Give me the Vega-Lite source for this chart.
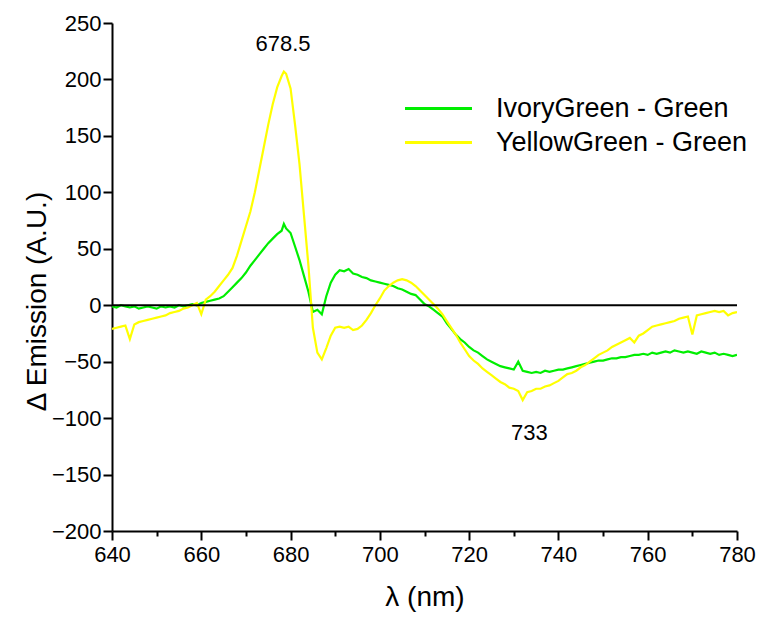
{
  "$schema": "https://vega.github.io/schema/vega-lite/v6.json",
  "width": 625,
  "height": 508,
  "autosize": "none",
  "padding": {"left": 112, "top": 23, "right": 23, "bottom": 86},
  "background": "white",
  "config": {
    "view": {"stroke": null},
    "font": "Liberation Sans",
    "axis": {"grid": false, "domainColor": "black", "domainWidth": 2, "tickColor": "black", "tickWidth": 2, "labelColor": "black", "titleColor": "black", "labelFont": "Liberation Sans", "titleFont": "Liberation Sans", "labelFontSize": 22, "titleFontSize": 28, "titleFontWeight": "normal"}
  },
  "datasets": {
    "spectra": [
      {"wl":640,"IvoryGreen - Green":-1,"YellowGreen - Green":-21},
      {"wl":641,"IvoryGreen - Green":-2,"YellowGreen - Green":-20},
      {"wl":642,"IvoryGreen - Green":0,"YellowGreen - Green":-19},
      {"wl":643,"IvoryGreen - Green":-1,"YellowGreen - Green":-18},
      {"wl":644,"IvoryGreen - Green":-2,"YellowGreen - Green":-30},
      {"wl":645,"IvoryGreen - Green":-1,"YellowGreen - Green":-17},
      {"wl":646,"IvoryGreen - Green":-3,"YellowGreen - Green":-15},
      {"wl":647,"IvoryGreen - Green":-2,"YellowGreen - Green":-14},
      {"wl":648,"IvoryGreen - Green":-1,"YellowGreen - Green":-13},
      {"wl":649,"IvoryGreen - Green":-2,"YellowGreen - Green":-12},
      {"wl":650,"IvoryGreen - Green":-3,"YellowGreen - Green":-11},
      {"wl":651,"IvoryGreen - Green":-1,"YellowGreen - Green":-10},
      {"wl":652,"IvoryGreen - Green":-2,"YellowGreen - Green":-9},
      {"wl":653,"IvoryGreen - Green":-1,"YellowGreen - Green":-7},
      {"wl":654,"IvoryGreen - Green":-2,"YellowGreen - Green":-6},
      {"wl":655,"IvoryGreen - Green":0,"YellowGreen - Green":-5},
      {"wl":656,"IvoryGreen - Green":-1,"YellowGreen - Green":-3},
      {"wl":657,"IvoryGreen - Green":0,"YellowGreen - Green":-2},
      {"wl":658,"IvoryGreen - Green":1,"YellowGreen - Green":0},
      {"wl":659,"IvoryGreen - Green":0,"YellowGreen - Green":2},
      {"wl":660,"IvoryGreen - Green":2,"YellowGreen - Green":-8},
      {"wl":661,"IvoryGreen - Green":3,"YellowGreen - Green":5},
      {"wl":662,"IvoryGreen - Green":4,"YellowGreen - Green":8},
      {"wl":663,"IvoryGreen - Green":5,"YellowGreen - Green":12},
      {"wl":664,"IvoryGreen - Green":6,"YellowGreen - Green":17},
      {"wl":665,"IvoryGreen - Green":8,"YellowGreen - Green":22},
      {"wl":666,"IvoryGreen - Green":12,"YellowGreen - Green":27},
      {"wl":667,"IvoryGreen - Green":16,"YellowGreen - Green":33},
      {"wl":668,"IvoryGreen - Green":20,"YellowGreen - Green":44},
      {"wl":669,"IvoryGreen - Green":24,"YellowGreen - Green":57},
      {"wl":670,"IvoryGreen - Green":29,"YellowGreen - Green":70},
      {"wl":671,"IvoryGreen - Green":35,"YellowGreen - Green":83},
      {"wl":672,"IvoryGreen - Green":40,"YellowGreen - Green":100},
      {"wl":673,"IvoryGreen - Green":45,"YellowGreen - Green":120},
      {"wl":674,"IvoryGreen - Green":50,"YellowGreen - Green":140},
      {"wl":675,"IvoryGreen - Green":55,"YellowGreen - Green":160},
      {"wl":676,"IvoryGreen - Green":59,"YellowGreen - Green":178},
      {"wl":677,"IvoryGreen - Green":63,"YellowGreen - Green":193},
      {"wl":678,"IvoryGreen - Green":66,"YellowGreen - Green":203},
      {"wl":678.5,"IvoryGreen - Green":72,"YellowGreen - Green":207},
      {"wl":679,"IvoryGreen - Green":68,"YellowGreen - Green":205},
      {"wl":680,"IvoryGreen - Green":64,"YellowGreen - Green":192},
      {"wl":681,"IvoryGreen - Green":52,"YellowGreen - Green":160},
      {"wl":682,"IvoryGreen - Green":40,"YellowGreen - Green":125},
      {"wl":683,"IvoryGreen - Green":26,"YellowGreen - Green":80},
      {"wl":684,"IvoryGreen - Green":12,"YellowGreen - Green":35},
      {"wl":685,"IvoryGreen - Green":-6,"YellowGreen - Green":-20},
      {"wl":686,"IvoryGreen - Green":-4,"YellowGreen - Green":-42},
      {"wl":687,"IvoryGreen - Green":-8,"YellowGreen - Green":-48},
      {"wl":688,"IvoryGreen - Green":8,"YellowGreen - Green":-38},
      {"wl":689,"IvoryGreen - Green":20,"YellowGreen - Green":-27},
      {"wl":690,"IvoryGreen - Green":27,"YellowGreen - Green":-20},
      {"wl":691,"IvoryGreen - Green":31,"YellowGreen - Green":-19},
      {"wl":692,"IvoryGreen - Green":30,"YellowGreen - Green":-20},
      {"wl":693,"IvoryGreen - Green":32,"YellowGreen - Green":-19},
      {"wl":694,"IvoryGreen - Green":28,"YellowGreen - Green":-22},
      {"wl":695,"IvoryGreen - Green":27,"YellowGreen - Green":-21},
      {"wl":696,"IvoryGreen - Green":25,"YellowGreen - Green":-18},
      {"wl":697,"IvoryGreen - Green":24,"YellowGreen - Green":-13},
      {"wl":698,"IvoryGreen - Green":22,"YellowGreen - Green":-7},
      {"wl":699,"IvoryGreen - Green":21,"YellowGreen - Green":0},
      {"wl":700,"IvoryGreen - Green":20,"YellowGreen - Green":6},
      {"wl":701,"IvoryGreen - Green":19,"YellowGreen - Green":13},
      {"wl":702,"IvoryGreen - Green":18,"YellowGreen - Green":17},
      {"wl":703,"IvoryGreen - Green":17,"YellowGreen - Green":20},
      {"wl":704,"IvoryGreen - Green":15,"YellowGreen - Green":22},
      {"wl":705,"IvoryGreen - Green":14,"YellowGreen - Green":23},
      {"wl":706,"IvoryGreen - Green":12,"YellowGreen - Green":22},
      {"wl":707,"IvoryGreen - Green":10,"YellowGreen - Green":20},
      {"wl":708,"IvoryGreen - Green":9,"YellowGreen - Green":17},
      {"wl":709,"IvoryGreen - Green":5,"YellowGreen - Green":13},
      {"wl":710,"IvoryGreen - Green":1,"YellowGreen - Green":9},
      {"wl":711,"IvoryGreen - Green":-1,"YellowGreen - Green":5},
      {"wl":712,"IvoryGreen - Green":-4,"YellowGreen - Green":1},
      {"wl":713,"IvoryGreen - Green":-7,"YellowGreen - Green":-3},
      {"wl":714,"IvoryGreen - Green":-10,"YellowGreen - Green":-8},
      {"wl":715,"IvoryGreen - Green":-16,"YellowGreen - Green":-14},
      {"wl":716,"IvoryGreen - Green":-21,"YellowGreen - Green":-20},
      {"wl":717,"IvoryGreen - Green":-26,"YellowGreen - Green":-26},
      {"wl":718,"IvoryGreen - Green":-30,"YellowGreen - Green":-33},
      {"wl":719,"IvoryGreen - Green":-33,"YellowGreen - Green":-39},
      {"wl":720,"IvoryGreen - Green":-37,"YellowGreen - Green":-45},
      {"wl":721,"IvoryGreen - Green":-40,"YellowGreen - Green":-49},
      {"wl":722,"IvoryGreen - Green":-42,"YellowGreen - Green":-52},
      {"wl":723,"IvoryGreen - Green":-45,"YellowGreen - Green":-56},
      {"wl":724,"IvoryGreen - Green":-48,"YellowGreen - Green":-59},
      {"wl":725,"IvoryGreen - Green":-50,"YellowGreen - Green":-62},
      {"wl":726,"IvoryGreen - Green":-52,"YellowGreen - Green":-65},
      {"wl":727,"IvoryGreen - Green":-54,"YellowGreen - Green":-68},
      {"wl":728,"IvoryGreen - Green":-55,"YellowGreen - Green":-70},
      {"wl":729,"IvoryGreen - Green":-56,"YellowGreen - Green":-73},
      {"wl":730,"IvoryGreen - Green":-57,"YellowGreen - Green":-74},
      {"wl":731,"IvoryGreen - Green":-50,"YellowGreen - Green":-76},
      {"wl":732,"IvoryGreen - Green":-58,"YellowGreen - Green":-84},
      {"wl":733,"IvoryGreen - Green":-59,"YellowGreen - Green":-77},
      {"wl":734,"IvoryGreen - Green":-60,"YellowGreen - Green":-76},
      {"wl":735,"IvoryGreen - Green":-59,"YellowGreen - Green":-74},
      {"wl":736,"IvoryGreen - Green":-60,"YellowGreen - Green":-74},
      {"wl":737,"IvoryGreen - Green":-58,"YellowGreen - Green":-72},
      {"wl":738,"IvoryGreen - Green":-59,"YellowGreen - Green":-71},
      {"wl":739,"IvoryGreen - Green":-58,"YellowGreen - Green":-69},
      {"wl":740,"IvoryGreen - Green":-57,"YellowGreen - Green":-67},
      {"wl":741,"IvoryGreen - Green":-57,"YellowGreen - Green":-64},
      {"wl":742,"IvoryGreen - Green":-56,"YellowGreen - Green":-61},
      {"wl":743,"IvoryGreen - Green":-55,"YellowGreen - Green":-60},
      {"wl":744,"IvoryGreen - Green":-54,"YellowGreen - Green":-58},
      {"wl":745,"IvoryGreen - Green":-53,"YellowGreen - Green":-55},
      {"wl":746,"IvoryGreen - Green":-52,"YellowGreen - Green":-53},
      {"wl":747,"IvoryGreen - Green":-51,"YellowGreen - Green":-50},
      {"wl":748,"IvoryGreen - Green":-50,"YellowGreen - Green":-47},
      {"wl":749,"IvoryGreen - Green":-49,"YellowGreen - Green":-44},
      {"wl":750,"IvoryGreen - Green":-49,"YellowGreen - Green":-42},
      {"wl":751,"IvoryGreen - Green":-48,"YellowGreen - Green":-40},
      {"wl":752,"IvoryGreen - Green":-47,"YellowGreen - Green":-37},
      {"wl":753,"IvoryGreen - Green":-47,"YellowGreen - Green":-35},
      {"wl":754,"IvoryGreen - Green":-46,"YellowGreen - Green":-33},
      {"wl":755,"IvoryGreen - Green":-46,"YellowGreen - Green":-31},
      {"wl":756,"IvoryGreen - Green":-45,"YellowGreen - Green":-29},
      {"wl":757,"IvoryGreen - Green":-44,"YellowGreen - Green":-33},
      {"wl":758,"IvoryGreen - Green":-44,"YellowGreen - Green":-27},
      {"wl":759,"IvoryGreen - Green":-43,"YellowGreen - Green":-25},
      {"wl":760,"IvoryGreen - Green":-44,"YellowGreen - Green":-22},
      {"wl":761,"IvoryGreen - Green":-42,"YellowGreen - Green":-19},
      {"wl":762,"IvoryGreen - Green":-43,"YellowGreen - Green":-18},
      {"wl":763,"IvoryGreen - Green":-42,"YellowGreen - Green":-17},
      {"wl":764,"IvoryGreen - Green":-41,"YellowGreen - Green":-16},
      {"wl":765,"IvoryGreen - Green":-42,"YellowGreen - Green":-15},
      {"wl":766,"IvoryGreen - Green":-40,"YellowGreen - Green":-14},
      {"wl":767,"IvoryGreen - Green":-41,"YellowGreen - Green":-12},
      {"wl":768,"IvoryGreen - Green":-42,"YellowGreen - Green":-11},
      {"wl":769,"IvoryGreen - Green":-41,"YellowGreen - Green":-10},
      {"wl":770,"IvoryGreen - Green":-42,"YellowGreen - Green":-26},
      {"wl":771,"IvoryGreen - Green":-43,"YellowGreen - Green":-9},
      {"wl":772,"IvoryGreen - Green":-41,"YellowGreen - Green":-8},
      {"wl":773,"IvoryGreen - Green":-42,"YellowGreen - Green":-7},
      {"wl":774,"IvoryGreen - Green":-43,"YellowGreen - Green":-6},
      {"wl":775,"IvoryGreen - Green":-42,"YellowGreen - Green":-5},
      {"wl":776,"IvoryGreen - Green":-44,"YellowGreen - Green":-6},
      {"wl":777,"IvoryGreen - Green":-43,"YellowGreen - Green":-5},
      {"wl":778,"IvoryGreen - Green":-44,"YellowGreen - Green":-9},
      {"wl":779,"IvoryGreen - Green":-45,"YellowGreen - Green":-7},
      {"wl":780,"IvoryGreen - Green":-44,"YellowGreen - Green":-6}
    ],
    "notes": [
      {"wl": 678.3, "v": 231, "t": "678.5"},
      {"wl": 733.5, "v": -113, "t": "733"}
    ]
  },
  "layer": [
    {
      "data": {"name": "spectra"},
      "transform": [{"fold": ["IvoryGreen - Green", "YellowGreen - Green"], "as": ["series", "value"]}],
      "mark": {"type": "line", "strokeWidth": 2.2, "clip": true},
      "encoding": {
        "x": {"field": "wl", "type": "quantitative",
          "scale": {"domain": [640, 780], "nice": false, "zero": false},
          "axis": {"title": "λ (nm)", "titlePadding": 18,
            "values": [640,650,660,670,680,690,700,710,720,730,740,750,760,770,780],
            "labelExpr": "datum.value % 20 == 0 ? datum.label : ''",
            "tickSize": {"condition": {"test": "datum.value % 20 != 0", "value": 5}, "value": 9},
            "labelPadding": 4, "labelOverlap": false, "labelFlush": false}},
        "y": {"field": "value", "type": "quantitative",
          "scale": {"domain": [-200, 250], "nice": false, "zero": false},
          "axis": {"title": "Δ Emission (A.U.)", "titleX": -67, "titleY": 278, "titleAngle": 270, "titleAlign": "center", "titleBaseline": "alphabetic",
            "values": [-200,-175,-150,-125,-100,-75,-50,-25,0,25,50,75,100,125,150,175,200,225,250],
            "labelExpr": "datum.value % 50 == 0 ? datum.label : ''",
            "tickSize": {"condition": {"test": "datum.value % 50 != 0", "value": 5}, "value": 9},
            "labelPadding": 2, "labelOverlap": false, "labelFlush": false}},
        "color": {"field": "series", "type": "nominal",
          "scale": {"domain": ["IvoryGreen - Green", "YellowGreen - Green"], "range": ["#00ee00", "#ffff00"]},
          "legend": {"title": null, "orient": "none", "legendX": 308, "legendY": 67,
            "symbolType": "M-2,0L2,0", "symbolSize": 1122, "symbolStrokeWidth": 3,
            "labelFontSize": 27, "labelFont": "Liberation Sans", "labelColor": "black",
            "labelOffset": 39, "rowPadding": 2, "labelLimit": 400}}
      }
    },
    {
      "data": {"values": [{"z": 0}]},
      "mark": {"type": "rule", "color": "black", "strokeWidth": 2},
      "encoding": {"y": {"field": "z", "type": "quantitative"}}
    },
    {
      "data": {"name": "notes"},
      "mark": {"type": "text", "fontSize": 22, "font": "Liberation Sans", "color": "black", "baseline": "middle", "align": "center"},
      "encoding": {
        "x": {"field": "wl", "type": "quantitative"},
        "y": {"field": "v", "type": "quantitative"},
        "text": {"field": "t"}
      }
    }
  ]
}
